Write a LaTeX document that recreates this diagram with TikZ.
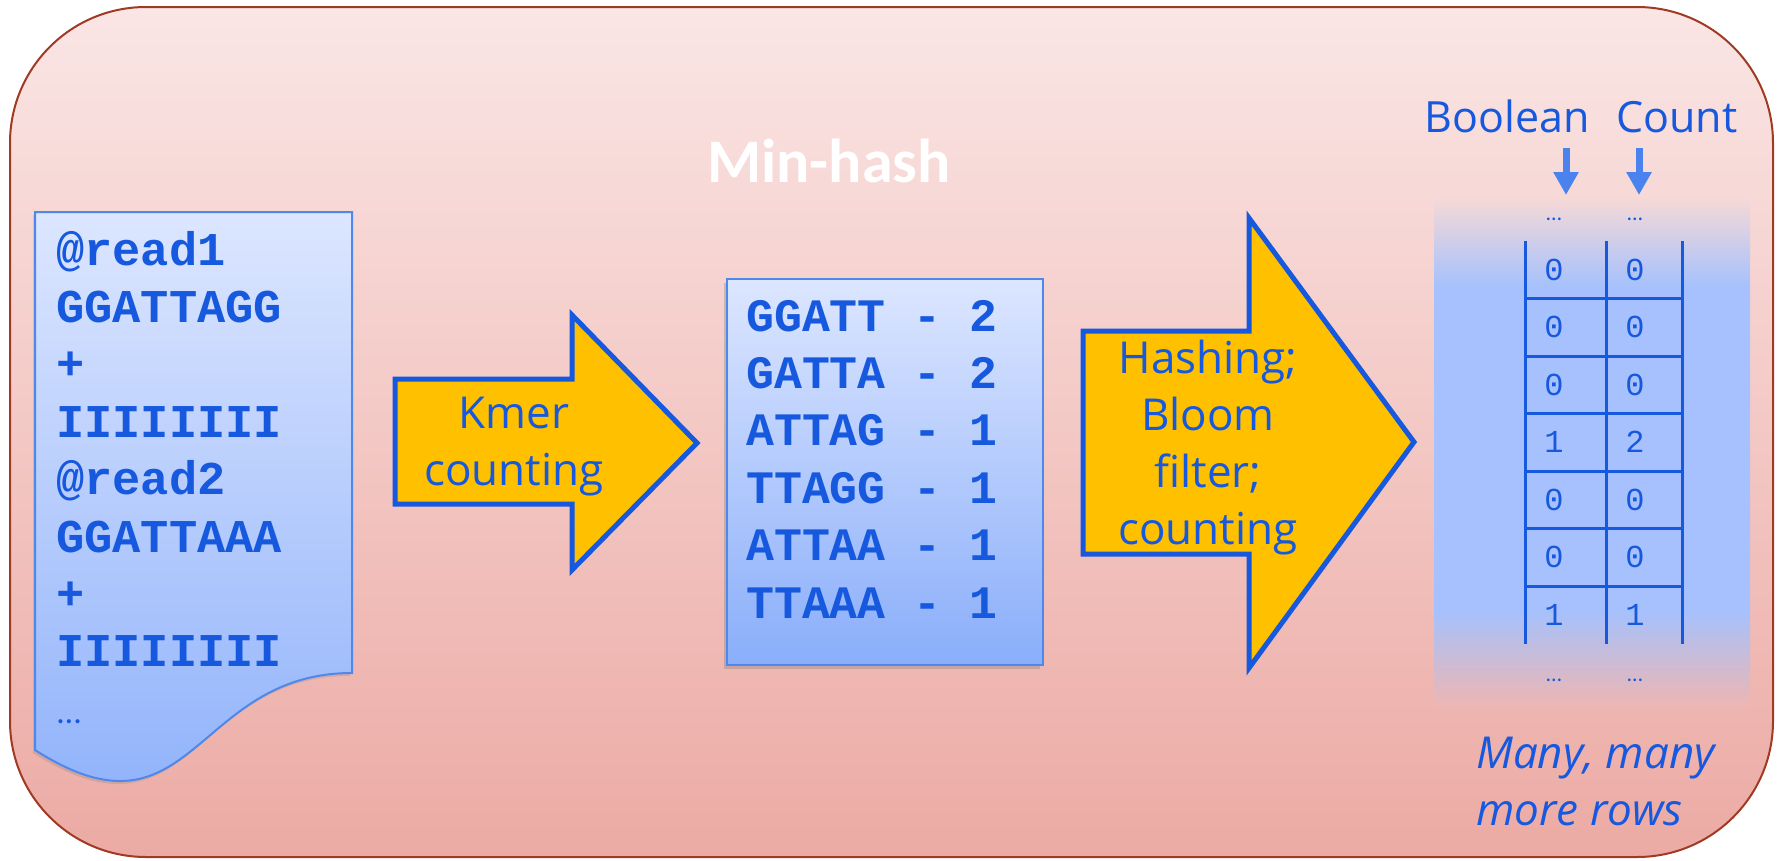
\documentclass[tikz,border=0pt]{standalone}
\usepackage{fontspec}
\setmainfont{Open Sans}
\setmonofont{Liberation Mono}
\newfontfamily\calfont{Carlito}
\usetikzlibrary{arrows.meta,shadows}

\definecolor{txtblue}{RGB}{22,88,222}
\definecolor{arrblue}{RGB}{74,130,238}
\definecolor{docline}{RGB}{78,136,234}
\definecolor{doctop}{RGB}{220,230,255}
\definecolor{docbot}{RGB}{138,174,250}
\definecolor{gold}{RGB}{255,192,0}
\definecolor{frametop}{RGB}{250,230,229}
\definecolor{framebot}{RGB}{236,170,164}
\definecolor{frameline}{RGB}{160,58,36}
\definecolor{cellblue}{RGB}{166,193,253}
\definecolor{fadetop}{RGB}{246,217,215}
\definecolor{fadebot}{RGB}{238,182,177}

% blue band behind the table, fading out at both ends
\pgfdeclareverticalshading{tablefade}{100bp}{color(0bp)=(fadebot); color(25bp)=(fadebot);
  color(34.6bp)=(cellblue); color(66.3bp)=(cellblue); color(75bp)=(fadetop); color(100bp)=(fadetop)}

\begin{document}
\begin{tikzpicture}[x=1pt,y=-1pt,
    outerbox/.style={draw=frameline, line width=2pt, rounded corners=136pt, top color=frametop, bottom color=framebot},
    paper/.style={draw=docline, line width=2pt, top color=doctop, bottom color=docbot},
    blockarrow/.style={draw=txtblue, line width=5pt, fill=gold, line join=miter},
    seq/.style={font=\ttfamily\bfseries\fontsize{47}{50}\selectfont, text=txtblue, inner sep=0pt, anchor=base west},
    cell/.style={font=\ttfamily\fontsize{32}{36}\selectfont, text=txtblue, inner sep=0pt},
    tablerule/.style={draw=txtblue, line width=3pt},
    arrowtext/.style={font=\fontsize{44}{57}\selectfont, text=txtblue, inner sep=0pt, align=center},
    dots/.style={font=\calfont\fontsize{22}{24}\selectfont, text=txtblue, inner sep=0pt},
    colarrow/.style={arrblue, line width=7pt, -{Triangle[width=24pt,length=23pt]}}]
    \useasboundingbox (0,0) rectangle (1781,860);

    % Marco
    \draw[outerbox] (10,7) rectangle (1773,857);
    \node[font=\calfont\bfseries\fontsize{62}{70}\selectfont, text=white, anchor=base, inner sep=0pt] (title) at (829,182) {Min-hash};

    % Fichero de lecturas
    \draw[paper, drop shadow={shadow xshift=-2pt, shadow yshift=-3pt, opacity=0.25}]
        (35,212) -- (352,212) -- (352,673) .. controls (193,673) and (193,851) .. (35,750) -- cycle;
    \foreach \txt [count=\i from 0] in {@read1,GGATTAGG,+,IIIIIIII,@read2,GGATTAAA,+,IIIIIIII}
        \node[seq] (read\i) at (56,265+57.4*\i) {\txt};
    \node[dots, font=\calfont\fontsize{34}{36}\selectfont] (readmore) at (69,722) {…};

    % Flecha 1
    \draw[blockarrow] (395,379) -- (572,379) -- (572,315) -- (697,443) -- (572,570) -- (572,504) -- (395,504) -- cycle;
    \node[arrowtext, anchor=north] (kmertext) at (514,397) {Kmer\\counting};

    % Tabla de kmers
    \draw[paper, drop shadow={shadow xshift=-3pt, shadow yshift=-4pt, opacity=0.35}] (727,279) rectangle (1043,665);
    \foreach \km/\n [count=\i from 0] in {GGATT/2,GATTA/2,ATTAG/1,TTAGG/1,ATTAA/1,TTAAA/1}
        \node[seq, font=\ttfamily\bfseries\fontsize{46.5}{50}\selectfont] (kmer\i) at (746,331+57.4*\i) {\km{} - \n};

    % Flecha 2
    \draw[blockarrow] (1083,331) -- (1249,331) -- (1249,218) -- (1414,442) -- (1249,668) -- (1249,554) -- (1083,554) -- cycle;
    \node[arrowtext, anchor=north] (hashtext) at (1208,340) {Hashing;\\Bloom\\filter;\\counting};

    % Filtro
    \shade[shading=tablefade] (1434,198) rectangle (1750,708);
    \foreach \x in {1525,1606,1682}
        \draw[tablerule] (\x,241) -- (\x,643.5);
    \foreach \k in {1,...,6}
        \draw[tablerule] (1525,241+57.5*\k) -- (1682,241+57.5*\k);
    \foreach \b/\c [count=\k from 0] in {0/0,0/0,0/0,1/2,0/0,0/0,1/1} {
        \node[cell] (bool\k) at (1554,269.75+57.5*\k) {\b};
        \node[cell] (count\k) at (1635,269.75+57.5*\k) {\c};
    }
    \node[dots] (booltop) at (1554,219) {…};
    \node[dots] (counttop) at (1635,219) {…};
    \node[dots] (boolbot) at (1554,680) {…};
    \node[dots] (countbot) at (1635,680) {…};

    % Columnas
    \node[arrowtext, anchor=base, font=\fontsize{43}{57}\selectfont] (boolname) at (1507,132) {Boolean};
    \node[arrowtext, anchor=base, font=\fontsize{43}{57}\selectfont] (countname) at (1677,132) {Count};
    \coordinate (boolin) at (1566,148);
    \coordinate (countin) at (1639,148);
    \draw[colarrow] (boolin) -- ++(0,47);
    \draw[colarrow] (countin) -- ++(0,47);

    \node[arrowtext, align=left, anchor=north west, font=\itshape\fontsize{44}{57}\selectfont] (morerows) at (1476,737) {Many, many\\more rows};
\end{tikzpicture}
\end{document}
